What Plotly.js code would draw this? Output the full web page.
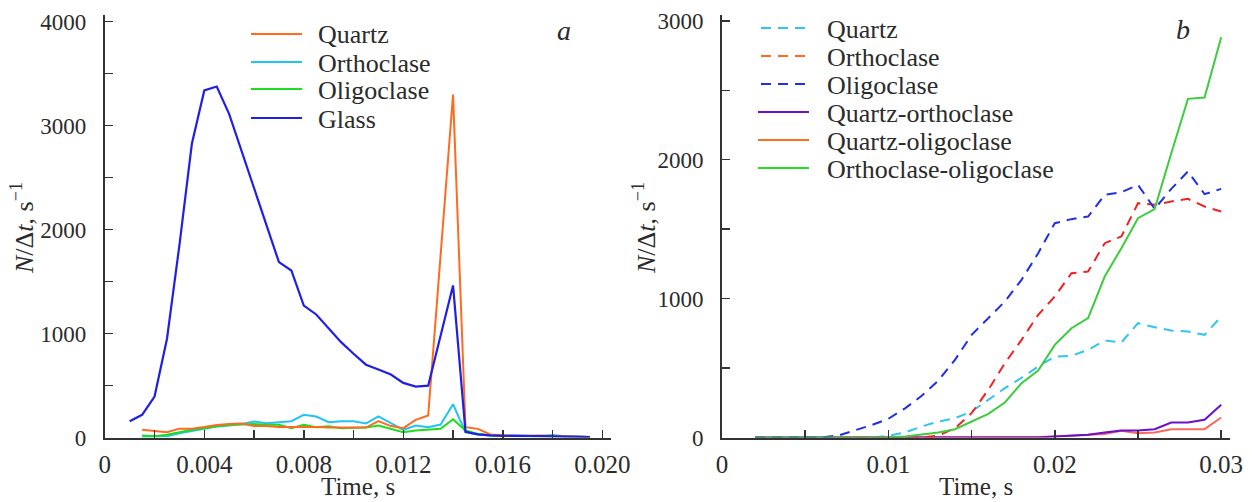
<!DOCTYPE html>
<html>
<head>
<meta charset="utf-8">
<script src="https://cdn.plot.ly/plotly-3.0.1.min.js"></script>
<style>html,body{margin:0;padding:0;background:#fff;}#chart{width:1252px;height:502px;}</style>
</head>
<body>
<div id="chart"></div>
<script>
// ---------- Panel a data ----------
const timeA = [0.001,0.0015,0.002,0.0025,0.003,0.0035,0.004,0.0045,0.005,0.0055,0.006,0.0065,0.007,0.0075,0.008,0.0085,0.009,0.0095,0.010,0.0105,0.011,0.0115,0.012,0.0125,0.013,0.0135,0.014,0.0145,0.015,0.0155,0.016,0.0165,0.017,0.0175,0.018,0.0185,0.019,0.0195];
const timeA2 = timeA.slice(1);
const glassA = [157,218,394,950,1850,2824,3337,3375,3110,2750,2400,2040,1686,1606,1269,1183,1045,917,805,700,654,606,525,490,498,990,1462,55,30,20,15,18,15,12,12,10,8,5];
const quartzA = [75,62,50,85,85,100,120,130,135,110,110,100,100,106,100,95,93,93,95,157,110,90,170,211,1750,3298,99,83,29,19,15,15,20,15,12,10,5];
const orthoA = [8,8,12,40,62,85,105,115,130,154,138,147,157,218,202,147,157,157,135,202,138,74,115,99,125,320,51,29,19,15,15,15,15,25,12,10,5];
const oligoA = [19,13,26,51,74,90,109,119,122,131,122,122,90,122,99,109,90,93,95,115,85,51,67,77,83,175,67,35,19,15,15,12,12,10,10,8,5];
const xTicksA = [0,0.004,0.008,0.012,0.016,0.020];
const xTickTextA = ["0","0.004","0.008","0.012","0.016","0.020"];
const yTicksA = [0,1000,2000,3000,4000];

// ---------- Panel b data ----------
const timeB = [0.002,0.003,0.004,0.005,0.006,0.007,0.008,0.009,0.010,0.011,0.012,0.013,0.014,0.015,0.016,0.017,0.018,0.019,0.020,0.021,0.022,0.023,0.024,0.025,0.026,0.027,0.028,0.029,0.030];
const quartzB = [0,0,0,0,0,0,0,0,12,36,79,115,139,187,271,355,430,511,583,588,631,698,684,823,794,770,763,739,871];
const orthoB = [0,0,0,0,0,0,0,0,0,0,0,14,67,175,343,535,703,883,1015,1183,1195,1399,1447,1687,1675,1699,1718,1663,1627];
const oligoB = [0,0,0,0,0,15,50,90,135,210,300,410,559,739,859,979,1135,1327,1543,1572,1591,1747,1766,1819,1646,1790,1915,1752,1790];
const qOrthoB = [0,0,0,0,0,0,0,0,0,0,0,0,0,0,0,0,0,0,7,12,19,36,50,50,60,108,108,127,235];
const qOligoB = [0,0,0,0,0,0,0,0,0,0,0,0,0,0,0,0,5,3,7,12,19,26,48,31,36,60,60,60,144];
const orOligoB = [0,0,0,0,0,0,0,0,2,7,19,36,60,117,170,252,391,482,667,787,859,1159,1363,1579,1644,2047,2438,2448,2882];
const xTicksB = [0,0.01,0.02,0.03];
const xTickTextB = ["0","0.01","0.02","0.03"];
const yTicksB = [0,1000,2000,3000];

const legendA = ["Quartz","Orthoclase","Oligoclase","Glass"];
const legendB = ["Quartz","Orthoclase","Oligoclase","Quartz-orthoclase","Quartz-oligoclase","Orthoclase-oligoclase"];

// ---------- styles ----------
const W = 1252, H = 502;
const FONT = "Liberation Serif, Times New Roman, serif";
const TXT = "#2b2b2b";
const AX = "#333333";
const DASH = "10px,7px";
const colA = {quartz:"#ff6a1f", ortho:"#22c4f2", oligo:"#1edc1e", glass:"#1f1fe6"};
const colB = {quartz:"#2ec6ee", ortho:"#ee2424", oligo:"#1f2fe6", qOrtho:"#6a0fd0", qOligo:"#f86a5c", orOligo:"#3ccc3c"};
const legColB = ["#2ec6ee","#ff6a1f","#1f2fe6","#6a0fd0","#ff6a1f","#22e022"];
const legDashB = [true,true,true,false,false,false];
const legColA = [colA.quartz, colA.ortho, colA.oligo, colA.glass];

function tr(x, y, color, xa, ya, dash, w) {
  return {x:x, y:y, type:"scatter", mode:"lines", xaxis:xa, yaxis:ya,
    line:{color:color, width:w||2, dash:dash||"solid"}, showlegend:false, hoverinfo:"skip"};
}

const data = [
  tr(timeA2, orthoA, colA.ortho, "x", "y"),
  tr(timeA2, oligoA, colA.oligo, "x", "y"),
  tr(timeA2, quartzA, colA.quartz, "x", "y"),
  tr(timeA, glassA, colA.glass, "x", "y", "solid", 2.2),
  tr(timeB, qOligoB, colB.qOligo, "x2", "y2"),
  tr(timeB, qOrthoB, colB.qOrtho, "x2", "y2"),
  tr(timeB, quartzB, colB.quartz, "x2", "y2", DASH),
  tr(timeB, orthoB, colB.ortho, "x2", "y2", DASH),
  tr(timeB, oligoB, colB.oligo, "x2", "y2", DASH),
  tr(timeB, orOligoB, colB.orOligo, "x2", "y2")
];

const yBot = 437.5, yTop = 15;
const yDom = [1 - yBot/H, 1 - yTop/H];
function axisBase(fs) {
  return {showline:true, linecolor:AX, linewidth:2, ticks:"inside", ticklen:8, tickwidth:1.5, tickcolor:AX,
    showgrid:false, zeroline:false, tickmode:"array",
    tickfont:{family:FONT, size:fs, color:TXT}, fixedrange:true};
}
const xaxis = Object.assign(axisBase(25), {domain:[104.8/W, 611/W], range:[0, (611-104.8)/24.875*0.001], anchor:"y",
  tickvals:xTicksA, ticktext:xTickTextA, ticklabelstandoff:3,
  minor:{dtick:0.002, tick0:0, ticks:"inside", ticklen:8, tickwidth:1.5, tickcolor:AX}});
const yaxis = Object.assign(axisBase(23), {domain:yDom, range:[0, (yBot-yTop)/104*1000], anchor:"x",
  tickvals:yTicksA, ticklabelstandoff:12,
  minor:{dtick:500, tick0:0, ticks:"inside", ticklen:8, tickwidth:1.5, tickcolor:AX}});
const xaxis2 = Object.assign(axisBase(25), {domain:[722/W, 1230/W], range:[0, (1230-722)/16640], anchor:"y2",
  tickvals:xTicksB, ticktext:xTickTextB, ticklabelstandoff:3,
  minor:{dtick:0.005, tick0:0, ticks:"inside", ticklen:8, tickwidth:1.5, tickcolor:AX}});
const yaxis2 = Object.assign(axisBase(23), {domain:yDom, range:[0, (yBot-yTop)/138.9*1000], anchor:"x2",
  tickvals:yTicksB, ticklabelstandoff:12,
  minor:{dtick:500, tick0:0, ticks:"inside", ticklen:8, tickwidth:1.5, tickcolor:AX}});

const px = v => v/W, py = v => 1 - v/H;
const annotations = [];
const shapes = [];
function txt(x, y, text, opts) {
  annotations.push(Object.assign({xref:"paper", yref:"paper", x:px(x), y:py(y), text:text, showarrow:false,
    xanchor:"center", yanchor:"middle", font:{family:FONT, size:26, color:TXT}}, opts||{}));
}
// axis titles
txt(357.5, 486, "Time, s", {font:{family:FONT, size:25, color:TXT}});
txt(976, 486, "Time, s", {font:{family:FONT, size:25, color:TXT}});
const yTitle = "<i>N</i>/Δ<i>t</i>, s<sup>−1</sup>";
txt(22, 228, yTitle, {textangle:-90});
txt(644, 228, yTitle, {textangle:-90});
// panel labels
txt(564, 31, "a", {font:{family:FONT, size:28, color:TXT, style:"italic"}});
txt(1183, 30, "b", {font:{family:FONT, size:28, color:TXT, style:"italic"}});
// legend a
const rowsA = [34, 62, 89, 118];
legendA.forEach((name, i) => {
  shapes.push({type:"line", xref:"paper", yref:"paper", x0:px(251), x1:px(302), y0:py(rowsA[i]), y1:py(rowsA[i]),
    line:{color:legColA[i], width:2.2}});
  txt(316, rowsA[i]+1, name, {xanchor:"left"});
});
// legend b
const rowsB = [28, 56, 84, 112, 140, 168];
legendB.forEach((name, i) => {
  shapes.push({type:"line", xref:"paper", yref:"paper", x0:px(legDashB[i]?761:758), x1:px(809), y0:py(rowsB[i]), y1:py(rowsB[i]),
    line:{color:legColB[i], width:2.2, dash:legDashB[i]?DASH:"solid"}});
  txt(825, rowsB[i]+1.5, name, {xanchor:"left"});
});

const layout = {width:W, height:H, margin:{l:0, r:0, t:0, b:0}, paper_bgcolor:"#fff", plot_bgcolor:"#fff",
  showlegend:false, xaxis:xaxis, yaxis:yaxis, xaxis2:xaxis2, yaxis2:yaxis2, annotations:annotations, shapes:shapes,
  font:{family:FONT, color:TXT}};

Plotly.newPlot("chart", data, layout, {staticPlot:true, displayModeBar:false});
</script>
</body>
</html>
